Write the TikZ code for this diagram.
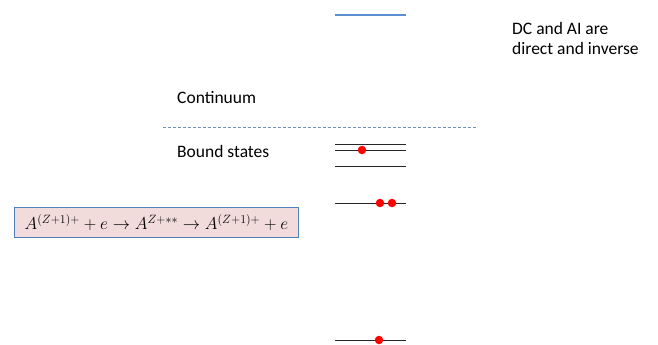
\documentclass[tikz,border=0pt]{standalone}
\usepackage{fontspec}
\setmainfont{Carlito}
\usetikzlibrary{calc}
\definecolor{lvlblue}{HTML}{5B8FD0}
\definecolor{boxfill}{HTML}{F2DCDB}
\definecolor{boxline}{HTML}{4F81BD}
\definecolor{dashblue}{HTML}{6F8FC0}
\tikzset{
  level/.style={draw=black!85, line width=0.9pt},
  dot/.style={circle, fill=red, inner sep=0pt, minimum size=8.5pt},
  lbl/.style={anchor=west, inner sep=0pt, font=\fontsize{17.5}{20}\selectfont},
}
\begin{document}
\begin{tikzpicture}[x=1pt,y=-1pt]
\useasboundingbox (0,0) rectangle (658,345);
% top continuum level
\coordinate (t1) at (335,15); \coordinate (t2) at (406,15);
\draw[draw=lvlblue, line width=1.2pt] (t1) -- (t2);
\node[lbl, align=left, anchor=north west] (dc) at (512,22) {DC and AI are\\direct and inverse};
\node[lbl] (cont) at (177,98) {Continuum};
\coordinate (d1) at (163,127); \coordinate (d2) at (477,127);
\draw[dashblue, line width=0.8pt, dash pattern=on 3pt off 2pt] (d1) -- (d2);
\node[lbl] (bs) at (177,151) {Bound states};
% bound levels
\coordinate (a1) at (335,144); \coordinate (a2) at (406,144);
\coordinate (b1) at (335,150); \coordinate (b2) at (406,150);
\coordinate (c1) at (335,166); \coordinate (c2) at (406,166);
\draw[level] (a1) -- (a2);
\draw[level] (b1) -- (b2);
\draw[level] (c1) -- (c2);
\node[dot] (e1) at (362,150) {};
\coordinate (f1) at (335,203); \coordinate (f2) at (406,203);
\draw[level] (f1) -- (f2);
\node[dot] (e2) at (380,203) {};
\node[dot] (e3) at (392,203) {};
\coordinate (g1) at (335,340); \coordinate (g2) at (406,340);
\draw[level] (g1) -- (g2);
\node[dot] (e4) at (379,340) {};
% formula box
\node[draw=boxline, fill=boxfill, line width=1pt, minimum width=284pt, minimum height=30pt, anchor=north west, inner sep=0pt, font=\fontsize{17.5}{20}\selectfont] (box) at (14,207) {$A^{(Z+1)+}+e\rightarrow A^{Z+**}\rightarrow A^{(Z+1)+}+e$};
\end{tikzpicture}
\end{document}
